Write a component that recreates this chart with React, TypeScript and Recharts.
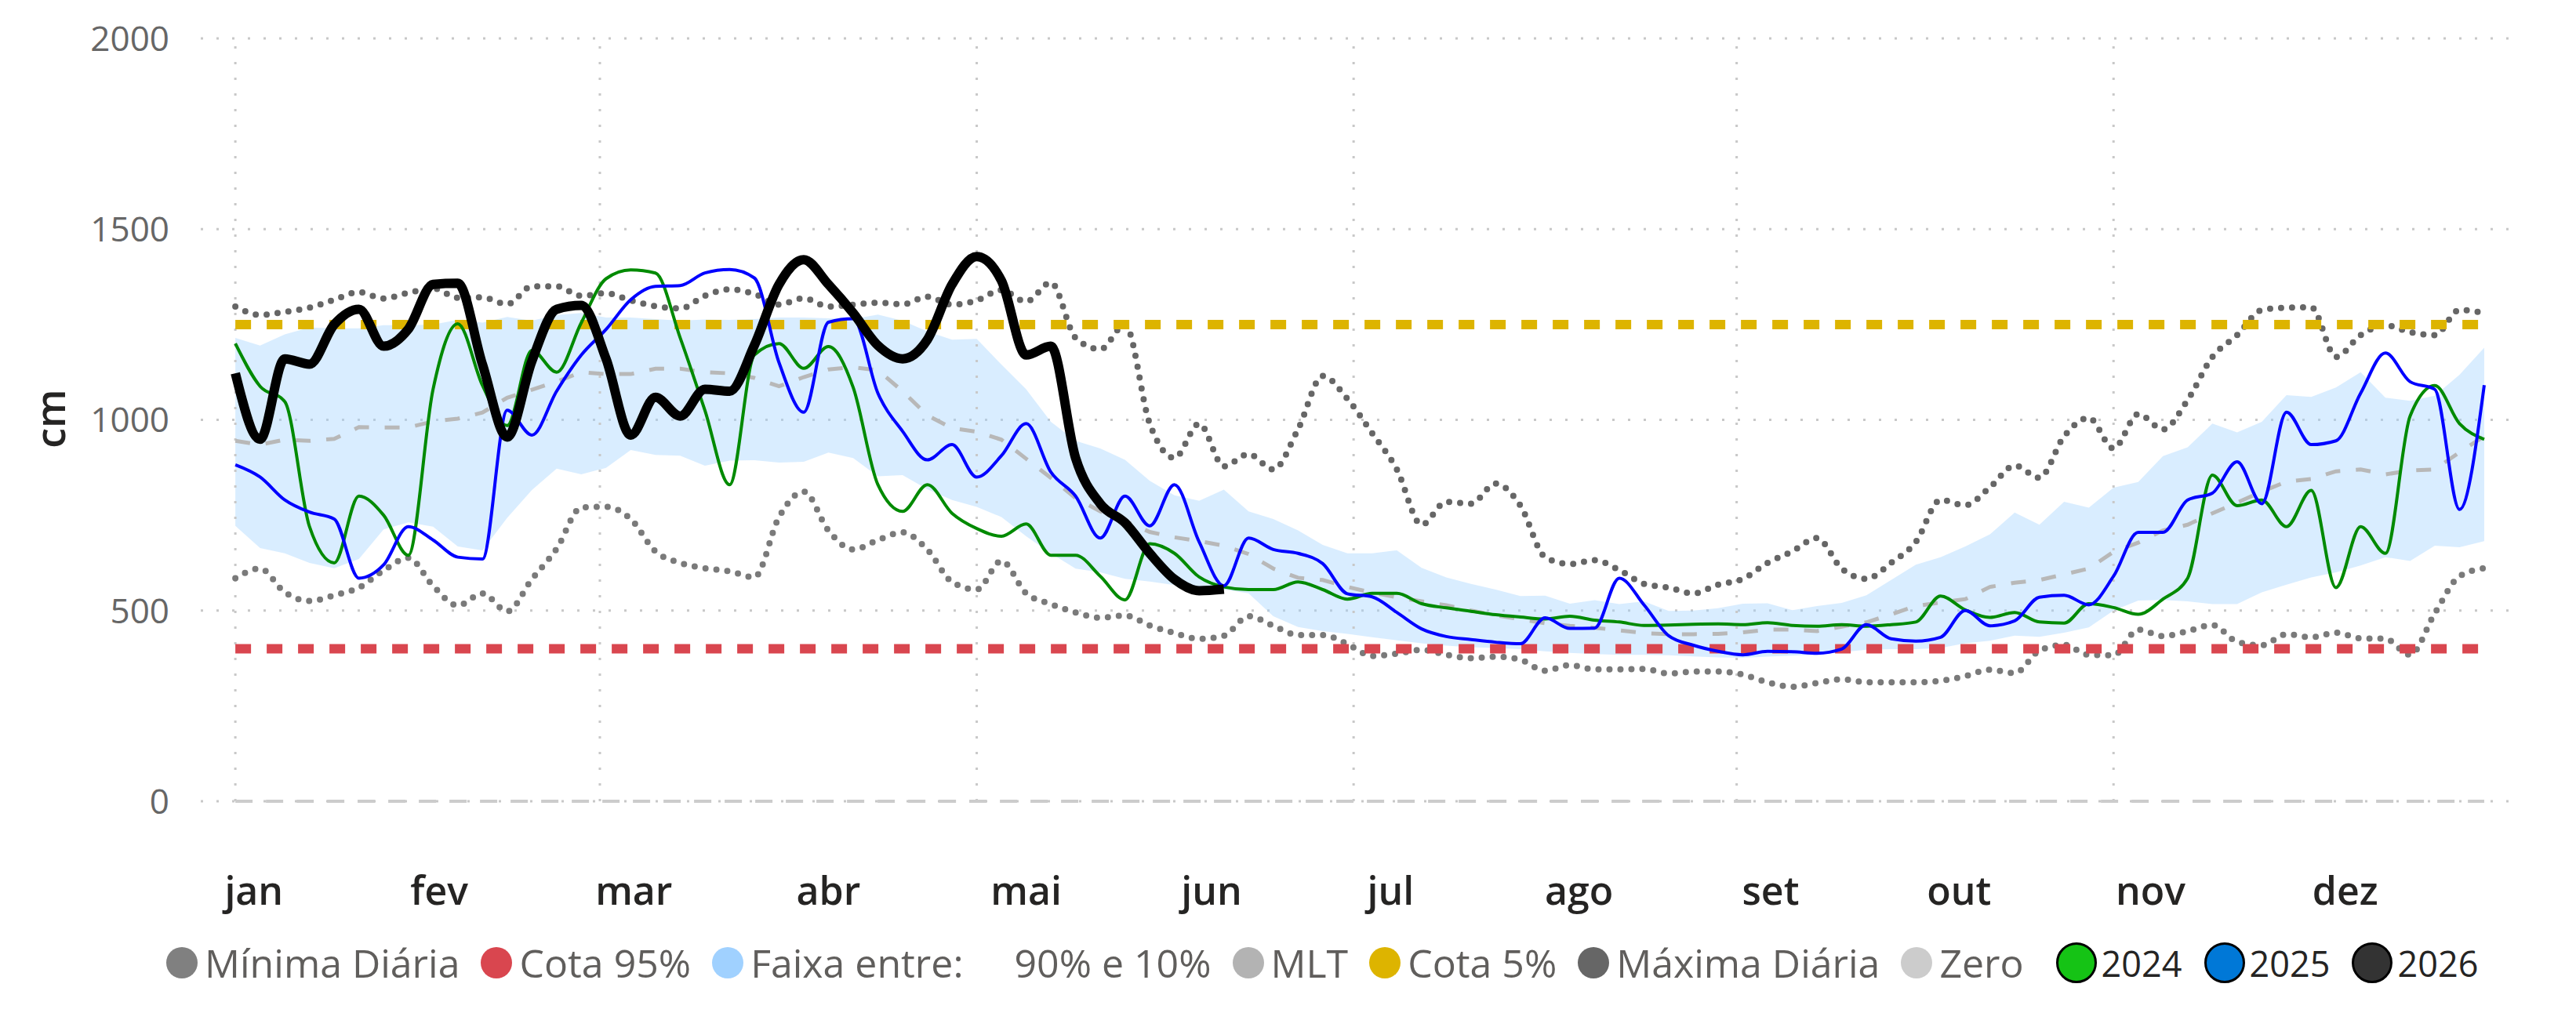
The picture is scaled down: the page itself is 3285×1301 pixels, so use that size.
import React from 'react';
import { ComposedChart, Area, Line, XAxis, YAxis, CartesianGrid, ReferenceLine } from 'recharts';

document.body.style.margin = '0';

// day of year (0 = 1 jan), sampled every 4 days
const days = [
  0, 4, 8, 12, 16, 20, 24, 28, 32, 36,
  40, 44, 48, 52, 56, 60, 64, 68, 72, 76,
  80, 84, 88, 92, 96, 100, 104, 108, 112, 116,
  120, 124, 128, 132, 136, 140, 144, 148, 152, 156,
  160, 164, 168, 172, 176, 180, 184, 188, 192, 196,
  200, 204, 208, 212, 216, 220, 224, 228, 232, 236,
  240, 244, 248, 252, 256, 260, 264, 268, 272, 276,
  280, 284, 288, 292, 296, 300, 304, 308, 312, 316,
  320, 324, 328, 332, 336, 340, 344, 348, 352, 356,
  360, 364,
];

const maxDaily = [
  1297, 1275, 1283, 1294, 1315, 1335, 1318, 1333, 1345, 1320,
  1321, 1303, 1350, 1350, 1325, 1332, 1313, 1298, 1292, 1325,
  1342, 1330, 1302, 1319, 1297, 1302, 1307, 1303, 1323, 1302,
  1313, 1340, 1310, 1360, 1215, 1185, 1250, 990, 900, 990,
  878, 910, 870, 975, 1115, 1055, 965, 870, 725, 785,
  780, 833, 775, 640, 622, 632, 606, 570, 560, 545,
  568, 583, 625, 655, 690, 610, 583, 625, 680, 790,
  776, 823, 880, 848, 957, 1005, 925, 1015, 975, 1052,
  1165, 1222, 1288, 1294, 1295, 1165, 1222, 1248, 1230, 1222,
  1288, 1280,
];

const minDaily = [
  585, 610, 548, 525, 540, 560, 605, 638, 565, 513,
  545, 498, 582, 662, 770, 772, 740, 655, 625, 611,
  603, 587, 745, 812, 710, 660, 685, 705, 660, 575,
  555, 630, 545, 517, 495, 481, 487, 461, 441, 426,
  434, 485, 460, 436, 436, 412, 381, 387, 397, 384,
  375, 379, 371, 342, 357, 346, 346, 347, 335, 340,
  340, 332, 312, 300, 310, 320, 312, 312, 312, 316,
  328, 345, 336, 395, 410, 384, 383, 450, 433, 446,
  462, 418, 409, 438, 430, 442, 427, 426, 384, 493,
  590, 611,
];

const band90 = [
  1215, 1195, 1224, 1242, 1240, 1240, 1248, 1248, 1250, 1262,
  1255, 1270, 1260, 1275, 1280, 1268, 1268, 1264, 1260, 1263,
  1262, 1264, 1268, 1268, 1266, 1264, 1276, 1260, 1232, 1210,
  1212, 1145, 1080, 995, 945, 925, 895, 840, 802, 788,
  817, 760, 740, 710, 672, 650, 650, 658, 612, 587,
  570, 555, 538, 539, 518, 527, 517, 524, 499, 500,
  506, 518, 519, 501, 512, 520, 540, 580, 620, 640,
  668, 700, 757, 725, 785, 770, 822, 837, 905, 928,
  990, 967, 995, 1065, 1060, 1085, 1125, 1058, 1050, 1063,
  1118, 1189,
];

const band10 = [
  722, 664, 650, 625, 611, 635, 713, 731, 720, 668,
  658, 743, 816, 872, 857, 874, 921, 908, 906, 880,
  893, 894, 888, 890, 914, 900, 852, 855, 818, 790,
  772, 745, 695, 650, 610, 600, 583, 576, 567, 561,
  555, 545, 485, 457, 446, 439, 430, 422, 414, 408,
  404, 402, 399, 393, 389, 386, 384, 384, 383, 380,
  377, 376, 379, 382, 385, 391, 397, 399, 399, 402,
  414, 421, 434, 431, 442, 456, 500, 526, 528, 524,
  517, 517, 548, 568, 587, 600, 618, 640, 630, 670,
  666, 682,
];

const mlt = [
  945, 935, 948, 945, 950, 981, 980, 980, 996, 1003,
  1019, 1058, 1079, 1100, 1125, 1120, 1120, 1134, 1134, 1125,
  1122, 1110, 1088, 1112, 1132, 1138, 1130, 1075, 1012, 978,
  969, 948, 898, 848, 795, 760, 735, 706, 692, 682,
  670, 648, 610, 586, 580, 562, 547, 535, 524, 514,
  500, 488, 477, 467, 460, 455, 448, 441, 438, 438,
  439, 443, 450, 450, 446, 458, 469, 490, 512, 521,
  530, 562, 573, 580, 595, 610, 654, 678, 710, 725,
  755, 783, 812, 838, 845, 865, 870, 857, 867, 870,
  915, 957,
];

const y2024 = [
  1200, 1088, 1048, 720, 625, 800, 750, 645, 1080, 1252,
  1090, 985, 1182, 1125, 1255, 1370, 1393, 1385, 1215, 1025,
  830, 1170, 1200, 1135, 1192, 1085, 830, 760, 830, 755,
  715, 695, 727, 645, 645, 590, 528, 675, 650, 588,
  562, 555, 555, 575, 555, 530, 545, 545, 518, 507,
  498, 489, 483, 478, 485, 475, 470, 461, 462, 464,
  465, 463, 468, 461, 459, 463, 459, 463, 470, 538,
  502, 482, 495, 470, 467, 518, 508, 490, 530, 585,
  855, 775, 790, 720, 815, 560, 720, 650, 1010, 1090,
  990, 949,
];

const y2025 = [
  882, 850, 790, 758, 740, 585, 620, 720, 685, 640,
  635, 1025, 960, 1075, 1170, 1237, 1315, 1350, 1352, 1385,
  1394, 1372, 1150, 1020, 1256, 1265, 1070, 970, 895, 935,
  850, 906, 990, 863, 800, 690, 800, 722, 830, 680,
  565, 690, 660, 650, 623, 544, 536, 495, 452, 432,
  424, 417, 413, 481, 453, 454, 585, 515, 434, 409,
  393, 384, 393, 392, 388, 399, 463, 426, 420, 430,
  500, 460, 473, 535, 540, 515, 590, 705, 705, 790,
  808, 890, 780, 1020, 935, 945, 1070, 1175, 1100, 1080,
  765, 1091,
];

const y2026 = [
  1122, 949, 1160, 1146, 1250, 1290, 1193, 1238, 1355, 1358,
  1145, 955, 1154, 1290, 1300, 1160, 960, 1059, 1010, 1080,
  1075, 1195, 1355, 1420, 1355, 1280, 1195, 1160, 1210, 1355,
  1428, 1365, 1170, 1193, 900, 780, 730, 650, 582, 552,
  556,
];

const cota95 = 400;
const cota5 = 1250;
const zero = 0;

const months = ['jan', 'fev', 'mar', 'abr', 'mai', 'jun', 'jul', 'ago', 'set', 'out', 'nov', 'dez'];
const monthTicks = [3, 33, 64.5, 96, 128, 158, 187, 217.5, 248.5, 279, 310, 341.5];
const gridDays = [0, 59, 120, 181, 243, 304];
const yTicks = [0, 500, 1000, 1500, 2000];

const rows = days.map((d, i) => ({
  d,
  max: maxDaily[i],
  min: minDaily[i],
  band: [band10[i], band90[i]],
  mlt: mlt[i],
  y2024: y2024[i],
  y2025: y2025[i],
  y2026: i < y2026.length ? y2026[i] : null,
}));

const legendItems = [
  { label: 'Mínima Diária', color: '#808080' },
  { label: 'Cota 95%', color: '#D9464F' },
  { label: 'Faixa entre:     90% e 10%', color: '#A0D1FF' },
  { label: 'MLT', color: '#B3B3B3' },
  { label: 'Cota 5%', color: '#DDB400' },
  { label: 'Máxima Diária', color: '#666666' },
  { label: 'Zero', color: '#CCCCCC' },
];

const yearItems = [
  { label: '2024', color: '#15C315' },
  { label: '2025', color: '#0078D7' },
  { label: '2026', color: '#333333' },
];

const font = "'Open Sans', 'Noto Sans', sans-serif";

const MonthTick = ({ x, payload }: any) => (
  <text x={x} y={1154} textAnchor="middle" fontFamily={font} fontSize={50} fontWeight={600} fill="#252423">
    {months[monthTicks.indexOf(payload.value)]}
  </text>
);

const ValueTick = ({ y, payload }: any) => (
  <text x={216} y={y} dy="0.36em" textAnchor="end" fontFamily={font} fontSize={44} fill="#666666">
    {payload.value}
  </text>
);

const grid = '#C8C8C8';

export default function App() {
  return (
    <div style={{ position: 'relative', width: 3285, height: 1301, overflow: 'hidden', background: '#fff' }}>
      <ComposedChart width={3285} height={1301} data={rows} margin={{ top: 49, right: 80, bottom: 0, left: 0 }}>
        <CartesianGrid vertical={false} stroke={grid} strokeWidth={3} strokeDasharray="3 17" />
        {gridDays.map((g) => (
          <ReferenceLine key={g} x={g} stroke={grid} strokeWidth={3} strokeDasharray="3 17" />
        ))}
        <XAxis
          type="number"
          dataKey="d"
          domain={[-5.6, 368.7]}
          allowDataOverflow
          ticks={monthTicks}
          interval={0}
          axisLine={false}
          tickLine={false}
          height={279}
          tick={<MonthTick />}
        />
        <YAxis
          domain={[0, 2000]}
          ticks={yTicks}
          allowDataOverflow
          axisLine={false}
          tickLine={false}
          width={256}
          tick={<ValueTick />}
          label={{
            content: () => (
              <text x={65} y={534} transform="rotate(-90 65 534)" textAnchor="middle" dy="0.35em"
                fontFamily={font} fontSize={52} fontWeight={600} fill="#252423">cm</text>
            ),
          }}
        />
        <Area type="linear" dataKey="band" stroke="none" fill="#A0D1FF" fillOpacity={0.4} isAnimationActive={false} />
        <ReferenceLine segment={[{ x: days[0], y: zero }, { x: days[days.length - 1], y: zero }]} stroke="#CCCCCC" strokeWidth={4} strokeDasharray="22 17" />
        <Line type="linear" dataKey="mlt" stroke="#B8B8B8" strokeWidth={5} strokeDasharray="19 20" dot={false} activeDot={false} isAnimationActive={false} />
        <Line type="monotone" dataKey="min" stroke="#7A7A7A" strokeWidth={8} strokeLinecap="round" strokeDasharray="0 14" dot={false} activeDot={false} isAnimationActive={false} />
        <Line type="monotone" dataKey="max" stroke="#666666" strokeWidth={8} strokeLinecap="round" strokeDasharray="0 14" dot={false} activeDot={false} isAnimationActive={false} />
        <ReferenceLine segment={[{ x: days[0], y: cota95 }, { x: days[days.length - 1], y: cota95 }]} stroke="#D9464F" strokeWidth={12} strokeDasharray="20 20" />
        <ReferenceLine segment={[{ x: days[0], y: cota5 }, { x: days[days.length - 1], y: cota5 }]} stroke="#DDB400" strokeWidth={12} strokeDasharray="20 20" />
        <Line type="monotone" dataKey="y2024" stroke="#008A00" strokeWidth={4} dot={false} activeDot={false} isAnimationActive={false} />
        <Line type="monotone" dataKey="y2025" stroke="#0000FF" strokeWidth={4} dot={false} activeDot={false} isAnimationActive={false} />
        <Line type="monotone" dataKey="y2026" stroke="#000000" strokeWidth={12} strokeLinejoin="round" dot={false} activeDot={false} isAnimationActive={false} />
      </ComposedChart>
      <div style={{ position: 'absolute', left: 212, top: 1198, height: 60, display: 'flex', alignItems: 'center', fontFamily: font, fontSize: 50, color: '#605E5C', whiteSpace: 'pre' }}>
        {legendItems.map((it) => (
          <div key={it.label} style={{ display: 'flex', alignItems: 'center', marginRight: 27 }}>
            <span style={{ width: 40, height: 40, borderRadius: 20, background: it.color, marginRight: 9 }} />
            <span>{it.label}</span>
          </div>
        ))}
        <div style={{ width: 14 }} />
        {yearItems.map((it) => (
          <div key={it.label} style={{ display: 'flex', alignItems: 'center', marginRight: 28 }}>
            <span style={{ width: 46, height: 46, borderRadius: 26, background: it.color, border: '3px solid #000', marginRight: 6 }} />
            <span style={{ color: '#252423', fontSize: 45 }}>{it.label}</span>
          </div>
        ))}
      </div>
    </div>
  );
}
